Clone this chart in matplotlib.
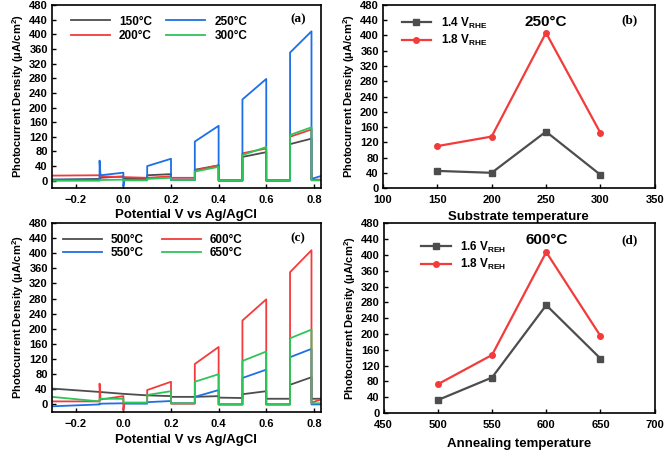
import matplotlib
matplotlib.use("Agg")
import matplotlib.pyplot as plt

plt.rcParams['font.family'] = ['Liberation Sans', 'DejaVu Sans']
plt.rcParams['font.weight'] = 'bold'
plt.rcParams['mathtext.default'] = 'regular'

# ---------------- data ----------------
light_on = [-0.1, 0.1, 0.3, 0.5, 0.7]
light_off = [0.0, 0.2, 0.4, 0.6, 0.79]
x_start, x_end = -0.3, 0.84

# panel (a): substrate temperature series
a_labels = ['150\u00b0C', '200\u00b0C', '250\u00b0C', '300\u00b0C']
a150_dark_s = [3, 6, 2, 1, 1, 2]
a150_dark_e = [5, 5, 2, 1, 1, 2]
a150_on_s = [8, 15, 30, 65, 100]
a150_on_e = [12, 18, 42, 78, 115]
a200_dark_s = [14, 10, 8, 0, 0, 3]
a200_dark_e = [15, 8, 8, 0, 0, 3]
a200_on_s = [12, 8, 28, 75, 120]
a200_on_e = [10, 12, 42, 88, 140]
a250_dark_s = [3, 2, 3, 1, 1, 5]
a250_dark_e = [3, 2, 3, 1, 1, 15]
a250_on_s = [15, 40, 107, 222, 350]
a250_on_e = [22, 60, 150, 278, 408]
a250_spike = [55, 0, 0, 0, 0]
a250_dip = [-15, 0, 0, 0, 0]
a300_dark_s = [0, 1, 2, 1, 1, 1]
a300_dark_e = [0, 1, 2, 1, 1, 1]
a300_on_s = [2, 5, 25, 70, 125]
a300_on_e = [3, 8, 38, 92, 146]

# panel (c): annealing temperature series
c_labels = ['500\u00b0C', '550\u00b0C', '600\u00b0C', '650\u00b0C']
c500_dark_s = [42, 28, 20, 18, 15, 15]
c500_dark_e = [33, 24, 20, 17, 15, 15]
c500_on_s = [33, 24, 20, 27, 52]
c500_on_e = [28, 22, 22, 35, 72]
c550_dark_s = [-5, 2, 3, 0, 0, 0]
c550_dark_e = [0, 2, 3, 0, 0, 0]
c550_on_s = [2, 6, 20, 70, 125]
c550_on_e = [3, 9, 38, 92, 147]
c600_dark_s = [8, 4, 2, 0, 0, 5]
c600_dark_e = [8, 4, 2, 0, 0, 15]
c600_on_s = [13, 38, 107, 222, 350]
c600_on_e = [22, 60, 152, 278, 408]
c600_spike = [55, 0, 0, 0, 0]
c600_dip = [-15, 0, 0, 0, 0]
c650_dark_s = [20, 5, 3, 0, 0, 3]
c650_dark_e = [8, 5, 3, 0, 0, 3]
c650_on_s = [15, 25, 60, 115, 175]
c650_on_e = [15, 35, 80, 140, 198]

# panel (b)
b_temp = [150, 200, 250, 300]
b_14 = [45, 40, 148, 35]
b_18 = [110, 135, 407, 145]
# panel (d)
d_temp = [500, 550, 600, 650]
d_16 = [33, 90, 273, 138]
d_18 = [73, 147, 407, 195]

# ---------------- styles ----------------
GRAY = '#4d4d4d'
RED = '#f23b3b'
BLUE = '#1d6fe6'
GREEN = '#2fc45a'


def chopped(dark_s, dark_e, on_s, on_e, spike=None, dip=None):
    bounds = [x_start] + [v for pair in zip(light_on, light_off) for v in pair] + [x_end]
    xs, ys = [], []
    for i in range(len(dark_s)):
        d0, d1 = bounds[2 * i], bounds[2 * i + 1]
        if dip is not None and i > 0 and dip[i - 1]:
            xs += [d0, d0 + 0.004]
            ys += [dip[i - 1], dark_s[i]]
        else:
            xs += [d0]
            ys += [dark_s[i]]
        xs += [d1]
        ys += [dark_e[i]]
        if i < len(on_s):
            t0, t1 = light_on[i], light_off[i]
            if spike is not None and spike[i]:
                xs += [t0, t0 + 0.004]
                ys += [spike[i], on_s[i]]
            else:
                xs += [t0]
                ys += [on_s[i]]
            xs += [t1]
            ys += [on_e[i]]
    return xs, ys


fig = plt.figure(figsize=(6.66, 4.51), dpi=100)
ax_a = fig.add_axes([0.078, 0.583, 0.404, 0.406])
ax_b = fig.add_axes([0.575, 0.583, 0.408, 0.406])
ax_c = fig.add_axes([0.078, 0.0865, 0.404, 0.419])
ax_d = fig.add_axes([0.576, 0.084, 0.407, 0.421])

ylab = 'Photocurrent Density (\u03bcA/cm$^2$)'


def style(ax):
    for s in ax.spines.values():
        s.set_linewidth(1.2)
    ax.tick_params(direction='in', length=3, width=1, labelsize=8)
    ax.tick_params(axis='x', pad=5)
    ax.tick_params(axis='y', pad=3)
    ax.set_yticks(range(0, 481, 40))
    ax.set_ylabel(ylab, fontsize=8, fontweight='bold', labelpad=2)
    for t in ax.get_xticklabels() + ax.get_yticklabels():
        t.set_fontweight('bold')


# (a)
series_a = [
    (chopped(a150_dark_s, a150_dark_e, a150_on_s, a150_on_e), GRAY),
    (chopped(a200_dark_s, a200_dark_e, a200_on_s, a200_on_e), RED),
    (chopped(a250_dark_s, a250_dark_e, a250_on_s, a250_on_e, a250_spike, a250_dip), BLUE),
    (chopped(a300_dark_s, a300_dark_e, a300_on_s, a300_on_e), GREEN),
]
for (xy, col), lab in zip(series_a, a_labels):
    ax_a.plot(xy[0], xy[1], color=col, lw=1.3, label=lab)
ax_a.set_xlim(-0.3, 0.83)
ax_a.set_ylim(-20, 480)
ax_a.set_xticks([-0.2, 0.0, 0.2, 0.4, 0.6, 0.8])
ax_a.set_xlabel('Potential V vs Ag/AgCl', fontsize=9.5, fontweight='bold', labelpad=3)
ax_a.legend(ncol=2, loc='upper left', bbox_to_anchor=(0.03, 1.0), frameon=False,
            handlelength=3.3, columnspacing=1.2, labelspacing=0.2,
            prop={'weight': 'bold', 'size': 8.5})
ax_a.text(0.915, 0.92, '(a)', transform=ax_a.transAxes, ha='center', va='center',
          fontsize=9.5, fontweight='bold', family='Liberation Serif')
style(ax_a)

# (c)
series_c = [
    (chopped(c500_dark_s, c500_dark_e, c500_on_s, c500_on_e), GRAY),
    (chopped(c550_dark_s, c550_dark_e, c550_on_s, c550_on_e), BLUE),
    (chopped(c600_dark_s, c600_dark_e, c600_on_s, c600_on_e, c600_spike, c600_dip), RED),
    (chopped(c650_dark_s, c650_dark_e, c650_on_s, c650_on_e), GREEN),
]
for (xy, col), lab in zip(series_c, c_labels):
    ax_c.plot(xy[0], xy[1], color=col, lw=1.3, label=lab)
ax_c.set_xlim(-0.3, 0.83)
ax_c.set_ylim(-20, 480)
ax_c.set_xticks([-0.2, 0.0, 0.2, 0.4, 0.6, 0.8])
ax_c.set_xlabel('Potential V vs Ag/AgCl', fontsize=9.5, fontweight='bold', labelpad=4)
ax_c.legend(ncol=2, loc='upper left', bbox_to_anchor=(0.0, 1.0), frameon=False,
            handlelength=3.3, columnspacing=1.5, labelspacing=0.1,
            prop={'weight': 'bold', 'size': 8.5})
ax_c.text(0.915, 0.92, '(c)', transform=ax_c.transAxes, ha='center', va='center',
          fontsize=9.5, fontweight='bold', family='Liberation Serif')
style(ax_c)

# (b)
ax_b.plot(b_temp, b_14, color=GRAY, lw=1.6, marker='s', ms=4, label='1.4 V$_{RHE}$')
ax_b.plot(b_temp, b_18, color=RED, lw=1.6, marker='o', ms=4, label='1.8 V$_{RHE}$')
ax_b.set_xlim(100, 350)
ax_b.set_ylim(0, 480)
ax_b.set_xticks(range(100, 351, 50))
ax_b.set_xlabel('Substrate temperature', fontsize=9.5, fontweight='bold', labelpad=4)
ax_b.legend(loc='upper left', bbox_to_anchor=(0.03, 1.0), frameon=False,
            handlelength=2.5, labelspacing=0.2, prop={'weight': 'bold', 'size': 8.5})
ax_b.text(250, 435, '250\u00b0C', ha='center', va='center', fontsize=11, fontweight='bold')
ax_b.text(0.908, 0.918, '(b)', transform=ax_b.transAxes, ha='center', va='center',
          fontsize=9.5, fontweight='bold', family='Liberation Serif')
style(ax_b)

# (d)
ax_d.plot(d_temp, d_16, color=GRAY, lw=1.6, marker='s', ms=4, label='1.6 V$_{REH}$')
ax_d.plot(d_temp, d_18, color=RED, lw=1.6, marker='o', ms=4, label='1.8 V$_{REH}$')
ax_d.set_xlim(450, 700)
ax_d.set_ylim(0, 480)
ax_d.set_xticks(range(450, 701, 50))
ax_d.set_xlabel('Annealing temperature', fontsize=9.5, fontweight='bold', labelpad=6)
ax_d.legend(loc='upper left', bbox_to_anchor=(0.1, 0.97), frameon=False,
            handlelength=2.5, labelspacing=0.2, prop={'weight': 'bold', 'size': 8.5})
ax_d.text(600, 438, '600\u00b0C', ha='center', va='center', fontsize=11, fontweight='bold')
ax_d.text(0.908, 0.91, '(d)', transform=ax_d.transAxes, ha='center', va='center',
          fontsize=9.5, fontweight='bold', family='Liberation Serif')
style(ax_d)

fig.savefig('out.png', dpi=100)
